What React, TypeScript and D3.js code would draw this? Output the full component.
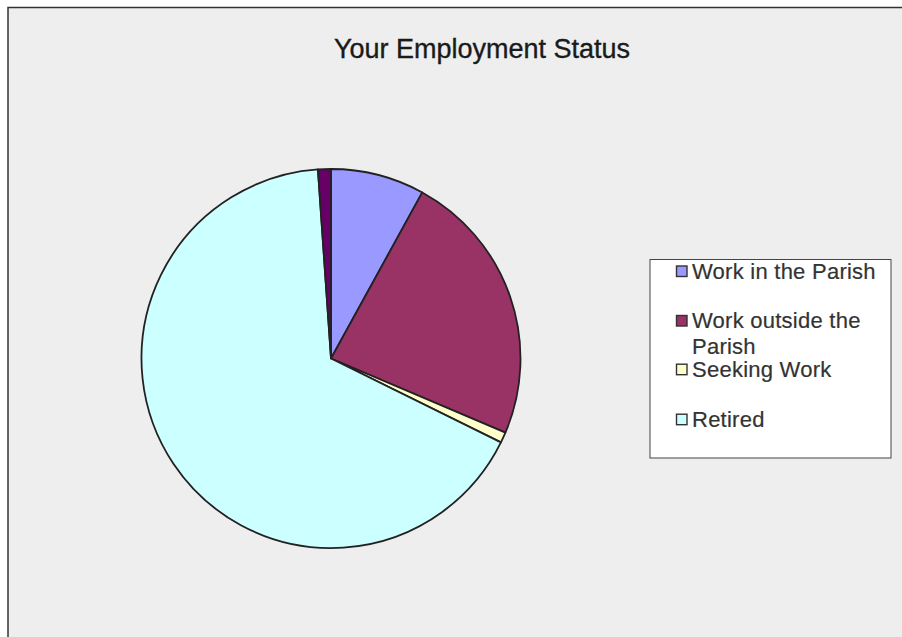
import React from "react";
import * as d3 from "d3";

const title = "Your Employment Status";
const categories = ["Work in the Parish", "Work outside the Parish", "Seeking Work", "Retired", "Other"];
const values = [8.0, 23.4, 0.9, 66.6, 1.1];
const colors = ["#9999FF", "#993366", "#FFFFCC", "#CCFFFF", "#660066"];
const legendLines = [["Work in the Parish"], ["Work outside the", "Parish"], ["Seeking Work"], ["Retired"]];

export default function App() {
  const W = 902, H = 637;
  const cx = 331, cy = 358.5, r = 189.5;
  const pie = d3.pie<number>().sort(null).value((d) => d)(values);
  const arc = d3.arc<d3.PieArcDatum<number>>().innerRadius(0).outerRadius(r);
  const font = "'Liberation Sans', Arial, sans-serif";
  const legendY = [278.5, 328, 376.7, 426.7];
  return (
    <svg width={W} height={H} style={{ position: "absolute", left: 0, top: 0, display: "block" }}>
      <rect x={0} y={0} width={W} height={H} fill="#ffffff" />
      <rect x={8} y={7.5} width={W + 20} height={H + 20} fill="#eeeeee" stroke="#333333" strokeWidth={1.5} />
      <text x={482} y={58} textAnchor="middle" fontFamily={font} fontSize={27} fill="#1a1a1a" stroke="#1a1a1a" strokeWidth={0.35}>
        {title}
      </text>
      <g transform={`translate(${cx},${cy})`}>
        {pie.map((p, i) => (
          <path key={categories[i]} d={arc(p) || ""} fill={colors[i]} stroke="#222222" strokeWidth={1.8} strokeLinejoin="round" />
        ))}
      </g>
      <rect x={650} y={259.5} width={241} height={198.5} fill="#ffffff" stroke="#444444" strokeWidth={1} />
      {legendLines.map((lines, i) => (
        <g key={i}>
          <rect x={676.5} y={legendY[i] - 12.5} width={10.5} height={10.5} fill={colors[i]} stroke="#333333" strokeWidth={1.4} />
          <text x={692} y={legendY[i]} fontFamily={font} fontSize={22} fill="#333333" letterSpacing={0.25} stroke="#333333" strokeWidth={0.2}>
            {lines.map((ln, j) => (
              <tspan key={j} x={692} dy={j === 0 ? 0 : 26}>{ln}</tspan>
            ))}
          </text>
        </g>
      ))}
    </svg>
  );
}
